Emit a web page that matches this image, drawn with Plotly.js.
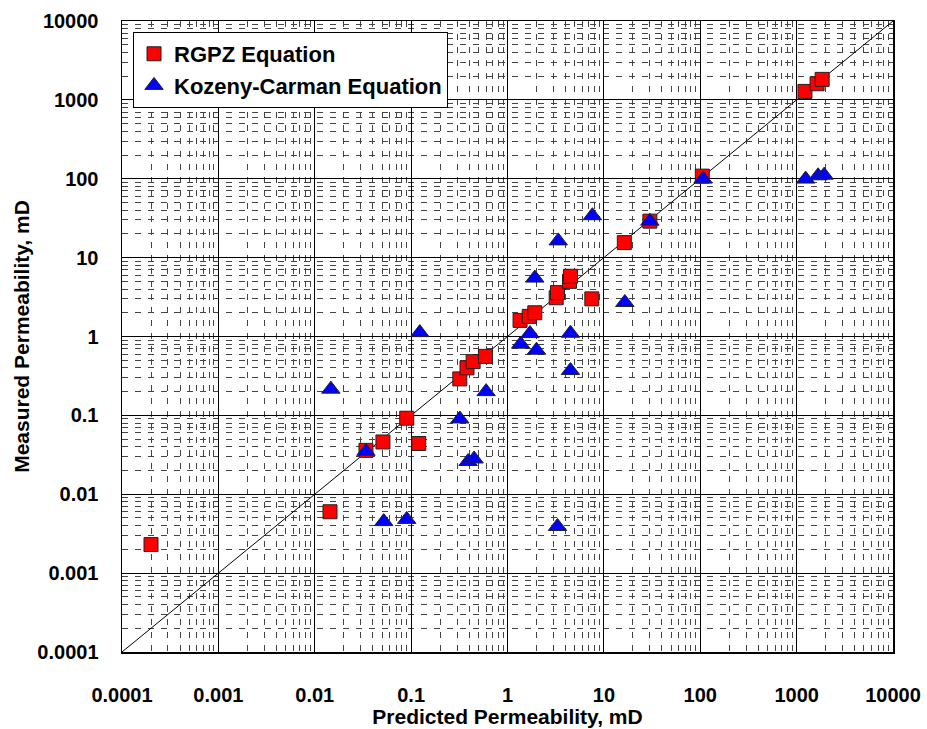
<!DOCTYPE html>
<html>
<head>
<meta charset="utf-8">
<script src="https://cdn.plot.ly/plotly-3.0.1.min.js"></script>
<style>html,body{margin:0;padding:0;background:#fff;}#chart{width:927px;height:729px;}</style>
</head>
<body>
<div id="chart"></div>
<script>
// RGPZ Equation: predicted vs measured permeability (mD)
var rgpzPredicted = [0.0002, 0.0144, 0.034, 0.051, 0.09, 0.12, 0.32, 0.38, 0.44, 0.59,
                     1.35, 1.68, 1.92, 3.2, 3.3, 4.4, 4.5, 7.5, 16.3, 30, 105, 1220, 1630, 1840];
var rgpzMeasured  = [0.0023, 0.006, 0.036, 0.046, 0.092, 0.044, 0.29, 0.40, 0.48, 0.56,
                     1.6, 1.8, 2.0, 3.1, 3.6, 5.0, 5.8, 3.0, 15.5, 29, 108, 1280, 1600, 1820];

// Kozeny-Carman Equation
var kcPredicted = [0.0147, 0.034, 0.052, 0.09, 0.123, 0.32, 0.39, 0.45, 0.6, 1.37, 1.71, 2.0,
                   1.92, 3.3, 3.36, 4.5, 4.5, 7.6, 16.5, 30, 107, 1240, 1670, 1930];
var kcMeasured  = [0.215, 0.035, 0.0045, 0.0048, 1.12, 0.09, 0.026, 0.028, 0.2, 0.8, 1.09, 0.67,
                   5.5, 0.0039, 16.3, 1.1, 0.37, 34, 2.7, 29, 99, 99, 109, 111];

// 1:1 line end points
var parityLine = [0.0001, 10000];

// Tick labels
var tickValues = [0.0001, 0.001, 0.01, 0.1, 1, 10, 100, 1000, 10000];
var tickLabels = ["0.0001", "0.001", "0.01", "0.1", "1", "10", "100", "1000", "10000"];

var FONT = "Arial, 'Liberation Sans', sans-serif";

function axis(titleText, standoffLabel, titleStandoff) {
  return {
    type: "log",
    range: [-4, 4],
    tickmode: "array",
    tickvals: tickValues,
    ticktext: tickLabels,
    ticks: "",
    ticklabelstandoff: standoffLabel,
    tickfont: {family: FONT, size: 20, color: "#000", weight: "bold"},
    showgrid: true,
    gridcolor: "#000",
    gridwidth: 1,
    showline: true,
    mirror: true,
    linecolor: "#000",
    linewidth: 1.5,
    zeroline: false,
    minor: {
      tickmode: "linear",
      dtick: "D1",
      showgrid: true,
      gridcolor: "#444",
      gridwidth: 1,
      griddash: "6px,7px",
      ticks: ""
    },
    title: {text: titleText, standoff: titleStandoff,
            font: {family: FONT, size: 21, color: "#000", weight: "bold"}}
  };
}

var traces = [
  {
    x: parityLine, y: parityLine, mode: "lines", type: "scatter",
    line: {color: "#000", width: 1}, showlegend: false, hoverinfo: "skip"
  },
  {
    x: rgpzPredicted, y: rgpzMeasured, mode: "markers", type: "scatter",
    name: "RGPZ Equation",
    marker: {symbol: "square", size: 14, color: "#ff0000", line: {color: "#222", width: 1}}
  },
  {
    x: kcPredicted, y: kcMeasured, mode: "markers", type: "scatter",
    name: "Kozeny-Carman Equation",
    marker: {symbol: "triangle-up", size: 16, color: "#0000ff", line: {color: "#222", width: 1}}
  }
];

var layout = {
  width: 927, height: 729,
  margin: {l: 122, r: 34, t: 21, b: 77},
  paper_bgcolor: "#fff", plot_bgcolor: "#fff",
  font: {family: FONT, color: "#000"},
  xaxis: axis("Predicted Permeability, mD", 24, 4),
  yaxis: axis("Measured Permeability, mD", 18, 2),
  showlegend: true,
  legend: {
    x: 0.0143, y: 0.9826, xanchor: "left", yanchor: "top",
    bgcolor: "#fff", bordercolor: "#000", borderwidth: 1,
    font: {family: FONT, size: 22, color: "#000", weight: "bold"},
    itemwidth: 30
  }
};

Plotly.newPlot("chart", traces, layout, {displayModeBar: false, staticPlot: true});
</script>
</body>
</html>
